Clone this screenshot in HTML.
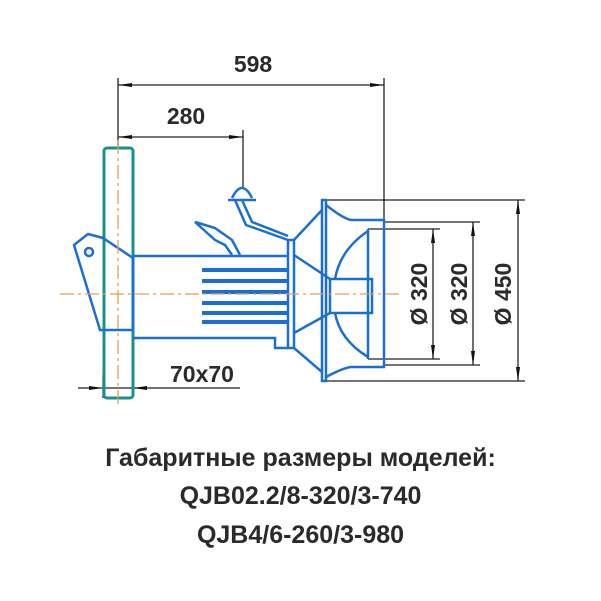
<!DOCTYPE html>
<html><head><meta charset="utf-8"><style>
html,body{margin:0;padding:0;background:#fff;width:601px;height:601px;overflow:hidden}
.t{position:absolute;left:0;width:601px;text-align:center;font-family:"Liberation Sans Narrow","Liberation Sans",sans-serif;font-weight:bold;font-size:25px;color:#2a2a2a}
</style></head><body>
<svg width="601" height="601" style="position:absolute;left:0;top:0" font-family="Liberation Sans Narrow, Liberation Sans, sans-serif">
<g stroke="#222" stroke-width="1.3" fill="none">
<line x1="118" y1="78" x2="118" y2="148"/>
<line x1="384" y1="78" x2="384" y2="365"/>
<line x1="118" y1="85" x2="384" y2="85"/>
<line x1="118" y1="137" x2="243" y2="137"/>
<line x1="243" y1="130" x2="243" y2="188"/>
<line x1="78" y1="388" x2="240" y2="388"/>
<line x1="103" y1="375" x2="103" y2="398"/>
<line x1="322" y1="200" x2="525" y2="200"/>
<line x1="322" y1="381" x2="525" y2="381"/>
<line x1="518" y1="200" x2="518" y2="381"/>
<line x1="384" y1="222" x2="480" y2="222"/>
<line x1="384" y1="365" x2="480" y2="365"/>
<line x1="473" y1="222" x2="473" y2="365"/>
<line x1="368" y1="229" x2="440" y2="229"/>
<line x1="368" y1="359" x2="440" y2="359"/>
<line x1="433" y1="229" x2="433" y2="359"/>
</g>
<g fill="#111">
<polygon points="118,85 132,83 132,87"/><polygon points="384,85 370,83 370,87"/>
<polygon points="118,137 132,135 132,139"/><polygon points="243,137 229,135 229,139"/>
<polygon points="103,388 89,386 89,390"/><polygon points="133,388 147,386 147,390"/>
<polygon points="518,200 516,214 520,214"/><polygon points="518,381 516,367 520,367"/>
<polygon points="473,222 471,236 475,236"/><polygon points="473,365 471,351 475,351"/>
<polygon points="433,229 431,243 435,243"/><polygon points="433,359 431,345 435,345"/>
</g>
<rect x="104" y="148" width="29" height="250" rx="3" fill="none" stroke="#1a8f8f" stroke-width="3"/>
<g stroke="#1a6fd6" stroke-width="2.5" fill="none">
<path d="M103,238 L88,234 L74,245 L100,330 L133,330 L133,258 Z"/>
<circle cx="89" cy="252" r="4"/>
<path d="M133,256 L288,256 M133,338 L275,338 L275,348 L288,348"/>
<rect x="288" y="240" width="6" height="108"/>
<path d="M294,240 L322,210 M294,348 L322,372 M294,255 L330,279 M294,333 L330,313"/>
<rect x="322" y="200" width="4" height="181"/>
<path d="M326,205 Q345,220 352,220 L384,220 L384,367 L352,367 Q345,367 326,377"/>
<path d="M368,229 L368,359 M368,231 Q340,250 335,279 M368,357 Q340,340 335,313"/>
<rect x="330" y="279" width="42" height="34"/>
<path d="M195,222 L215,228 L232,240 L240,255 M195,222 L215,240 L225,245 L232,255"/>
<path d="M235,200 L246,225 L288,240 M242,200 L252,222 L288,236"/>
<path d="M228,200 L256,200 M232,198 Q242,178 252,198"/>
</g>
<g stroke="#1a6fd6" stroke-width="4">
<line x1="202" y1="270" x2="288" y2="270"/><line x1="202" y1="281" x2="288" y2="281"/>
<line x1="202" y1="292" x2="288" y2="292"/><line x1="202" y1="303" x2="288" y2="303"/>
<line x1="202" y1="313" x2="288" y2="313"/><line x1="202" y1="322" x2="288" y2="322"/>
</g>
<g stroke="#e8a050" stroke-width="1.3" stroke-dasharray="14,4,3,4">
<line x1="60" y1="294" x2="400" y2="294"/>
<line x1="118" y1="140" x2="118" y2="405"/>
</g>
<g fill="#2a2a2a" font-size="23" font-weight="bold" text-anchor="middle">
<text x="253" y="72">598</text>
<text x="186" y="124">280</text>
<text x="202" y="382">70x70</text>
<text transform="translate(427 294) rotate(-90)">Ø 320</text>
<text transform="translate(467 294) rotate(-90)">Ø 320</text>
<text transform="translate(511 294) rotate(-90)">Ø 450</text>
</g>
</svg>
<div class="t" style="top:444px">Габаритные размеры моделей:</div>
<div class="t" style="top:482px">QJB02.2/8-320/3-740</div>
<div class="t" style="top:521px">QJB4/6-260/3-980</div>
</body></html>
